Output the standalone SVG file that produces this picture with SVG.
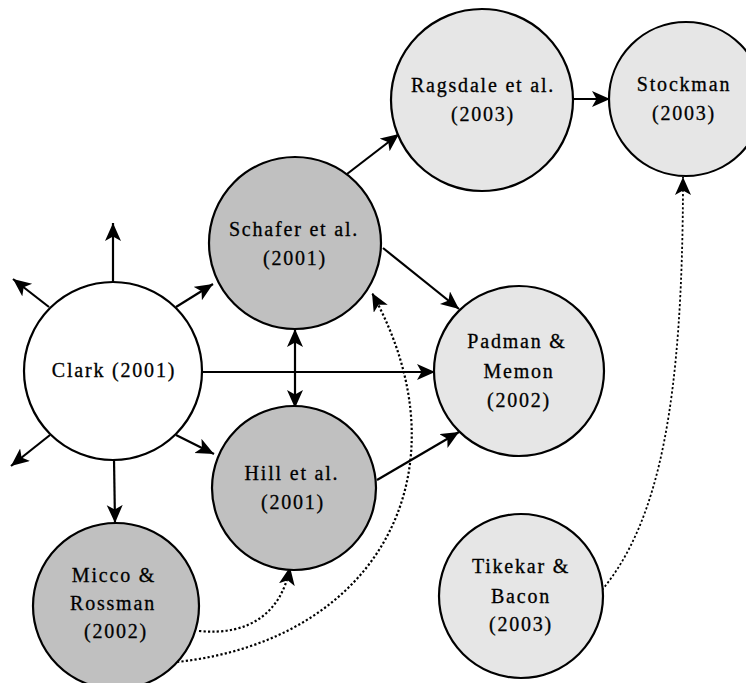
<svg xmlns="http://www.w3.org/2000/svg" width="746" height="683" viewBox="0 0 746 683">
<style>
.node circle{stroke:#000;stroke-width:2.2}
.dark{fill:#c0c0c0}
.light{fill:#e6e6e6}
.white{fill:#fff}
text{font-family:"Liberation Serif","Times New Roman",serif;font-size:20px;letter-spacing:1.8px;fill:#000;stroke:#000;stroke-width:0.3;text-anchor:middle}
.c path{fill:none;stroke:#000;stroke-width:2.2}
.c .dot{stroke-dasharray:2.2 2.2;marker-end:url(#ah)}
.c .arr{marker-end:url(#ah)}
</style>
<defs>
<marker id="ah" markerUnits="userSpaceOnUse" markerWidth="20" markerHeight="18" refX="18" refY="8" orient="auto-start-reverse" viewBox="0 0 20 18">
<path d="M0,0 L18,8 L0,16 L4.5,8 z" fill="#000"/>
</marker>
</defs>
<rect width="746" height="683" fill="#fff"/>
<g id="connectors" class="c">
<path class="arr" d="M113,282 L113,223"/>
<path class="arr" d="M49,307 L13,279"/>
<path class="arr" d="M176,307 L213,284"/>
<path class="arr" d="M50,435 L11,466"/>
<path class="arr" d="M176,435 L214,454"/>
<path class="arr" d="M114,459 L115,523"/>
<path class="arr" d="M202,372 L435,372"/>
<path class="arr" d="M295,329 L295,408" marker-start="url(#ah)"/>
<path class="arr" d="M347,174 L399,134"/>
<path class="arr" d="M572,99 L610,99"/>
<path class="arr" d="M383,248 L459,309"/>
<path class="arr" d="M377,480 L459,432"/>
<path class="dot" d="M199,631 C250,636 282,612 290,567"/>
<path class="dot" d="M177,662 C380,640 470,470 372,293"/>
<path class="dot" d="M602,590 C660,520 683,400 683,177" style="stroke-width:1.8"/>
</g>
<g id="clark" class="node"><circle class="white" cx="113" cy="371" r="89"/><text x="114" y="377">Clark (2001)</text></g>
<g id="schafer" class="node"><circle class="dark" cx="295" cy="243" r="86"/><text x="294" y="236">Schafer et al.</text><text x="295" y="265">(2001)</text></g>
<g id="hill" class="node"><circle class="dark" cx="294" cy="488" r="82"/><text x="292" y="480">Hill et al.</text><text x="293" y="509">(2001)</text></g>
<g id="micco" class="node"><circle class="dark" cx="116" cy="606" r="83"/><text x="114" y="582">Micco &amp;</text><text x="113" y="610">Rossman</text><text x="116" y="638">(2002)</text></g>
<g id="padman" class="node"><circle class="light" cx="519" cy="371" r="85"/><text x="517" y="348">Padman &amp;</text><text x="519" y="378">Memon</text><text x="519" y="407">(2002)</text></g>
<g id="ragsdale" class="node"><circle class="light" cx="482" cy="100" r="91"/><text x="483" y="92">Ragsdale et al.</text><text x="483" y="121">(2003)</text></g>
<g id="stockman" class="node"><circle class="light" cx="686" cy="99" r="77"/><text x="684" y="91">Stockman</text><text x="684" y="120">(2003)</text></g>
<g id="tikekar" class="node"><circle class="light" cx="521" cy="596" r="82"/><text x="521" y="573">Tikekar &amp;</text><text x="521" y="603">Bacon</text><text x="521" y="631">(2003)</text></g>
</svg>
